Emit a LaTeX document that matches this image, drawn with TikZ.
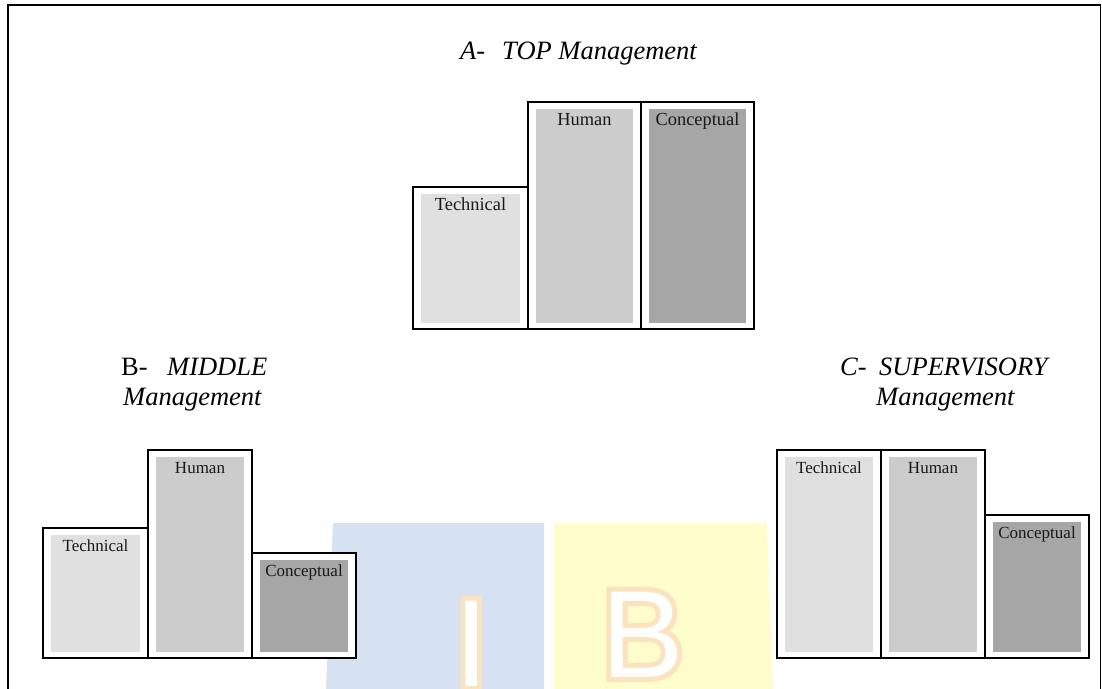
\documentclass[tikz,border=0pt]{standalone}
\usepackage{fontspec}
\setmainfont{Liberation Serif}
\newfontfamily\wmfont{Liberation Sans}
\newfontfamily\wmhalofont[FakeBold=8]{Liberation Sans}
\usetikzlibrary{fit,calc}
\definecolor{techc}{HTML}{E0E0E0}
\definecolor{humc}{HTML}{CCCCCC}
\definecolor{concc}{HTML}{A6A6A6}
\definecolor{wmblue}{HTML}{D6E2F2}
\definecolor{wmyellow}{HTML}{FFFDCC}
\definecolor{wmhalo}{HTML}{FCE3C0}
\newcommand{\skillbar}[6]{%
  \coordinate (#1-nw) at #2; \coordinate (#1-se) at #3;
  \node[outerbox, fit=(#1-nw)(#1-se)] (#1) {};
  \node[innerbox, fill=#4, fit={($(#1-nw)+(8,6.5)$) ($(#1-se)+(-8,-6.5)$)}] (#1-in) {};
  \node[skilllabel, font=\fontsize{#6}{#6}\selectfont] (#1-lab) at ($(#1-in.north)+(0,17)$) {#5};
}
\begin{document}
\begin{tikzpicture}[x=1pt,y=-1pt,
  outerbox/.style={draw=black, line width=1.6pt, fill=white, inner sep=0pt, outer sep=0pt},
  innerbox/.style={draw=none, inner sep=0pt, outer sep=0pt},
  skilllabel/.style={anchor=base, inner sep=0pt, text=black!90},
  heading/.style={anchor=base west, inner sep=0pt, font=\fontsize{26.5}{30}\selectfont\itshape},
  headingup/.style={anchor=base west, inner sep=0pt, font=\fontsize{26.5}{30}\selectfont},
  wm/.style={anchor=base west, inner sep=0pt, font=\wmfont\fontsize{124}{124}\selectfont},
  wmhalo/.style={anchor=base west, inner sep=0pt, text=wmhalo, font=\wmhalofont\fontsize{124}{124}\selectfont}]
\useasboundingbox (0,0) rectangle (1102,688);
% watermark
\fill[wmblue] (333,523) -- (544,523) -- (544,690) -- (326,690) -- cycle;
\fill[wmyellow] (554,523) -- (767,523) -- (773,690) -- (554,690) -- cycle;
\coordinate (wmI) at (454,686);
\coordinate (wmB) at (601,677);
\node[wmhalo] (wmIh) at (wmI) {I};
\node[wmhalo] (wmBh) at (wmB) {B};
\node[wm, text=white] (wmIt) at (wmI) {I};
\node[wm, text=white] (wmBt) at (wmB) {B};
% frame
\coordinate (fbl) at (8,692);
\coordinate (ftl) at (8,5);
\coordinate (ftr) at (1100.5,5);
\coordinate (fbr) at (1100.5,692);
\draw[line width=1.8pt] (fbl) -- (ftl) -- (ftr) -- (fbr);
% A: top management
\node[heading] (hA) at (460,59) {A-};
\node[heading, anchor=base east] (hAt) at (697,59) {TOP Management};
\skillbar{at}{(413,187)}{(528,329)}{techc}{Technical}{18.4}
\skillbar{ah}{(528,102)}{(641,329)}{humc}{Human}{18.4}
\skillbar{ac}{(641,102)}{(754,329)}{concc}{Conceptual}{18.4}
% B: middle management
\node[headingup] (hB) at (121,375) {B-};
\node[heading] (hBt) at (167,375) {MIDDLE};
\node[heading] (hBm) at (123,405) {Management};
\skillbar{bt}{(43,528)}{(148,658)}{techc}{Technical}{17}
\skillbar{bh}{(148,450)}{(252,658)}{humc}{Human}{17}
\skillbar{bc}{(252,553)}{(356,658)}{concc}{Conceptual}{17}
% C: supervisory management
\node[heading] (hC) at (840,375) {C-};
\node[heading] (hCt) at (879,375) {SUPERVISORY};
\node[heading] (hCm) at (876,405) {Management};
\skillbar{ct}{(777,450)}{(881,658)}{techc}{Technical}{17}
\skillbar{ch}{(881,450)}{(985,658)}{humc}{Human}{17}
\skillbar{cc}{(985,515)}{(1089,658)}{concc}{Conceptual}{17}
\end{tikzpicture}
\end{document}
